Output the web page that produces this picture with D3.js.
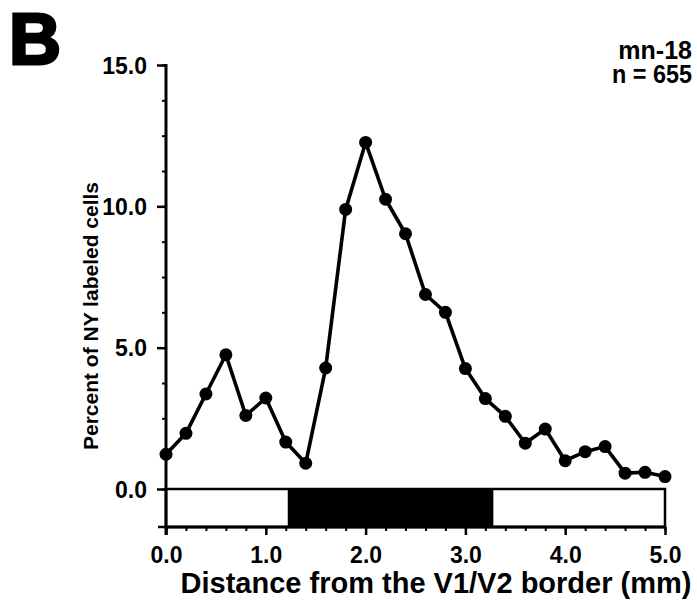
<!DOCTYPE html>
<html><head><meta charset="utf-8">
<script src="https://cdn.jsdelivr.net/npm/d3@7"></script>
<style>
body{margin:0;background:#fff;}
text{font-family:"Liberation Sans",Arial,Helvetica,sans-serif;fill:#000;}
</style></head>
<body><svg id="c" width="697" height="612"></svg>
<script>
const distances = [0.0,0.2,0.4,0.6,0.8,1.0,1.2,1.4,1.6,1.8,2.0,2.2,2.4,2.6,2.8,3.0,3.2,3.4,3.6,3.8,4.0,4.2,4.4,4.6,4.8,5.0];
const percents  = [1.23,1.97,3.36,4.75,2.60,3.22,1.66,0.91,4.28,9.89,12.26,10.25,9.03,6.88,6.25,4.26,3.20,2.57,1.62,2.12,1.00,1.32,1.50,0.56,0.59,0.44];
const yTickValues = [0,5,10,15];
const yTickLabels = ["0.0","5.0","10.0","15.0"];
const xTickValues = [0,1,2,3,4,5];
const xTickLabels = ["0.0","1.0","2.0","3.0","4.0","5.0"];
const stripeStart = 1.22, stripeEnd = 3.28;

const svg = d3.select("#c");
const x = d3.scaleLinear().domain([0,5]).range([166,665]);
const y = d3.scaleLinear().domain([0,15]).range([489,65]);
const axisBottomY = 527;

// stripe
svg.append("rect").attr("x",x(0)).attr("y",y(0)).attr("width",x(5)-x(0)).attr("height",axisBottomY-y(0))
  .attr("fill","#fff").attr("stroke","#000").attr("stroke-width",2.5);
svg.append("rect").attr("x",x(stripeStart)).attr("y",y(0)).attr("width",x(stripeEnd)-x(stripeStart)).attr("height",axisBottomY-y(0))
  .attr("fill","#000");

// y axis
const yMinor = d3.range(0,15.01,1.25);
const ya = svg.append("g").attr("transform",`translate(${x(0)},0)`)
  .call(d3.axisLeft(y).tickValues(yMinor).tickSize(4).tickFormat(""));
ya.select(".domain").remove();
ya.selectAll("line").attr("stroke-width",2);
const yb = svg.append("g").attr("transform",`translate(${x(0)},0)`)
  .call(d3.axisLeft(y).tickValues(yTickValues).tickSize(9).tickPadding(10).tickFormat((d,i)=>yTickLabels[i]));
yb.select(".domain").remove();
yb.selectAll("line").attr("stroke-width",2.5);
yb.selectAll("text").attr("font-size",23).attr("font-weight","bold").attr("dy","0.36em");
svg.append("line").attr("x1",x(0)).attr("x2",x(0)).attr("y1",y(15)-1).attr("y2",axisBottomY+8).attr("stroke","#000").attr("stroke-width",3);
svg.append("line").attr("x1",x(0)-8).attr("x2",x(0)).attr("y1",axisBottomY).attr("y2",axisBottomY).attr("stroke","#000").attr("stroke-width",2.5);

// x axis
const xMinor = d3.range(0,5.01,0.2);
const xa = svg.append("g").attr("transform",`translate(0,${axisBottomY})`)
  .call(d3.axisBottom(x).tickValues(xMinor).tickSize(4).tickFormat(""));
xa.select(".domain").remove();
xa.selectAll("line").attr("stroke-width",2);
const xb = svg.append("g").attr("transform",`translate(0,${axisBottomY})`)
  .call(d3.axisBottom(x).tickValues(xTickValues).tickSize(8).tickPadding(12).tickFormat((d,i)=>xTickLabels[i]));
xb.select(".domain").remove();
xb.selectAll("line").attr("stroke-width",2.5);
xb.selectAll("text").attr("font-size",23).attr("font-weight","bold");
svg.append("line").attr("x1",x(0)).attr("x2",x(5)+1).attr("y1",axisBottomY).attr("y2",axisBottomY).attr("stroke","#000").attr("stroke-width",3);

// line + points
const pts = distances.map((d,i)=>({d, v:percents[i]}));
svg.append("path").datum(pts)
  .attr("d", d3.line().x(p=>x(p.d)).y(p=>y(p.v)))
  .attr("fill","none").attr("stroke","#000").attr("stroke-width",3.6).attr("stroke-linejoin","round");
svg.selectAll("circle.pt").data(pts).join("circle").attr("class","pt")
  .attr("cx",p=>x(p.d)).attr("cy",p=>y(p.v)).attr("r",6.5).attr("fill","#000");

// titles
svg.append("text").attr("x",436).attr("y",593).attr("text-anchor","middle")
  .attr("font-size",29).attr("font-weight","bold").text("Distance from the V1/V2 border (mm)");
svg.append("text").attr("transform","translate(98,316) rotate(-90)").attr("text-anchor","middle")
  .attr("font-size",21).attr("font-weight","bold").text("Percent of NY labeled cells");
svg.append("text").attr("x",9).attr("y",64).attr("font-size",72).attr("font-weight","bold")
  .attr("stroke","#000").attr("stroke-width",3).text("B");
svg.append("text").attr("x",692).attr("y",59).attr("text-anchor","end").attr("font-size",25).attr("font-weight","bold").text("mn-18");
svg.append("text").attr("x",692).attr("y",83).attr("text-anchor","end").attr("font-size",25).attr("font-weight","bold")
  .attr("textLength",80).attr("lengthAdjust","spacingAndGlyphs").text("n = 655");
</script></body></html>
